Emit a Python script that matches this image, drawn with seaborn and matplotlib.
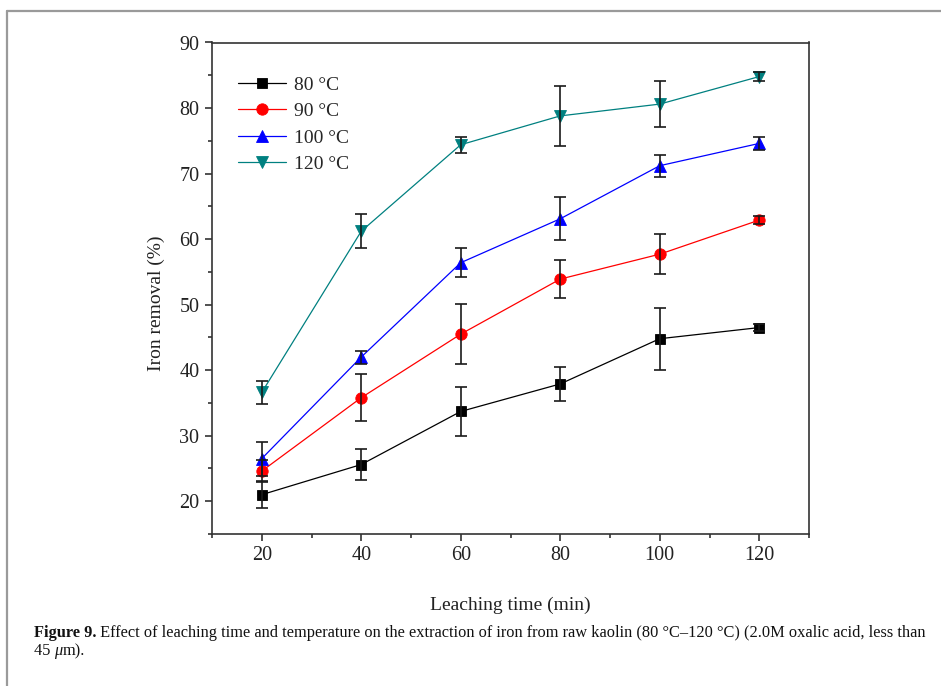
import matplotlib
matplotlib.use("Agg")
import matplotlib.pyplot as plt
from matplotlib.lines import Line2D
from matplotlib.ticker import MultipleLocator
import pandas as pd
import seaborn as sns

# Leaching time (min) and iron removal (%) with error bars, per temperature
time_min = [20, 40, 60, 80, 100, 120]
temps = ["80 °C", "90 °C", "100 °C", "120 °C"]
removal_80 = [21.0, 25.6, 33.7, 37.9, 44.8, 46.5]
err_80 = [2.1, 2.4, 3.8, 2.6, 4.7, 0.5]
removal_90 = [24.6, 35.8, 45.5, 53.9, 57.7, 62.9]
err_90 = [1.7, 3.6, 4.6, 2.9, 3.1, 0.6]
removal_100 = [26.5, 42.0, 56.4, 63.1, 71.2, 74.6]
err_100 = [2.6, 1.0, 2.2, 3.3, 1.7, 1.0]
removal_120 = [36.6, 61.2, 74.4, 78.8, 80.6, 84.8]
err_120 = [1.8, 2.6, 1.2, 4.6, 3.5, 0.7]

y_ticks = [20, 30, 40, 50, 60, 70, 80, 90]
x_ticks = [20, 40, 60, 80, 100, 120]

removals = [removal_80, removal_90, removal_100, removal_120]
errors = [err_80, err_90, err_100, err_120]
colors = ["#000000", "#ff0000", "#0000ff", "#008080"]
markers = ["s", "o", "^", "v"]
msizes = [7.4, 8.2, 8.8, 8.8]

rows = []
for t, r, e in zip(temps, removals, errors):
    for x, y, s in zip(time_min, r, e):
        rows.append({"time": x, "removal": y, "err": s, "temp": t})
df = pd.DataFrame(rows)

sns.set_theme(style="ticks")
plt.rcParams["font.family"] = ["Liberation Serif", "DejaVu Serif"]

fig = plt.figure(figsize=(9.41, 6.86), dpi=100)
ax = fig.add_axes([212 / 941, 152 / 686, 597 / 941, 491.5 / 686])

series_lines = []
for t, c, m, ms in zip(temps, colors, markers, msizes):
    sub = df[df["temp"] == t]
    n_before = len(ax.lines)
    sns.lineplot(data=sub, x="time", y="removal", color=c, marker=m,
                 markersize=ms, markeredgecolor=c, markeredgewidth=0.6,
                 linewidth=0.9, errorbar=None, legend=False, ax=ax)
    series_lines.append(ax.lines[n_before])

for t in temps:
    sub = df[df["temp"] == t]
    ax.errorbar(sub["time"], sub["removal"], yerr=sub["err"], fmt="none",
                ecolor="#1a1a1a", elinewidth=1.2, capsize=4.2, capthick=1.2,
                zorder=4)

ax.set_xlim(10, 130)
ax.set_ylim(15, 90)
ax.set_xticks(x_ticks)
ax.set_yticks(y_ticks)
ax.xaxis.set_minor_locator(MultipleLocator(10))
ax.yaxis.set_minor_locator(MultipleLocator(5))
ax.tick_params(which="major", direction="out", length=5, width=1.1,
               labelsize=14.5, color="#222222", labelcolor="#222222", pad=4)
ax.tick_params(which="minor", direction="out", length=3, width=1.1,
               color="#222222")
for side in ["left", "bottom", "top", "right"]:
    ax.spines[side].set_visible(True)
    ax.spines[side].set_color("#333333")
    ax.spines[side].set_linewidth(1.2)

ax.set_xlabel("Leaching time (min)", fontsize=14, color="#222222")
ax.set_ylabel("Iron removal (%)", fontsize=14, color="#222222")
ax.xaxis.set_label_coords(0.5, -0.128)
ax.yaxis.set_label_coords(-0.078, 0.47)

ax.legend(series_lines, temps, loc="upper left",
          bbox_to_anchor=(0.043, 0.932), frameon=False, fontsize=14,
          handlelength=2.5, handletextpad=0.4, labelspacing=0.46,
          borderpad=0, borderaxespad=0)

# Page frame lines (top and left)
fig.add_artist(Line2D([7 / 941, 1.0], [1 - 11 / 686, 1 - 11 / 686],
                      transform=fig.transFigure, color="#9a9a9a", lw=1.6))
fig.add_artist(Line2D([7 / 941, 7 / 941], [0.0, 1 - 11 / 686],
                      transform=fig.transFigure, color="#9a9a9a", lw=1.6))

# Caption, fitted to the text column width
cap_bold = "Figure 9."
cap_rest = (" Effect of leaching time and temperature on the extraction of iron "
            "from raw kaolin (80 °C–120 °C) (2.0M oxalic acid, less than")
x0_px, x1_px = 34, 929
y1_px, y2_px = 633, 651
renderer = fig.canvas.get_renderer()
fs = 11
tb = fig.text(x0_px / 941, 1 - y1_px / 686, cap_bold, fontsize=fs,
              fontweight="bold", va="center", ha="left", color="#111111")
tr = fig.text(0, 1 - y1_px / 686, cap_rest, fontsize=fs, va="center",
              ha="left", color="#111111")
wb = tb.get_window_extent(renderer).width
wr = tr.get_window_extent(renderer).width
fs = fs * (x1_px - x0_px) / (wb + wr)
tb.set_fontsize(fs)
tr.set_fontsize(fs)
wb = tb.get_window_extent(renderer).width
tr.set_x((x0_px + wb) / 941)

parts = [("45 ", "normal"), ("μ", "italic"), ("m).", "normal")]
xp = x0_px
for s, st in parts:
    t = fig.text(xp / 941, 1 - y2_px / 686, s, fontsize=fs, style=st,
                 va="center", ha="left", color="#111111")
    xp += t.get_window_extent(renderer).width

fig.savefig("out.png", dpi=100)
